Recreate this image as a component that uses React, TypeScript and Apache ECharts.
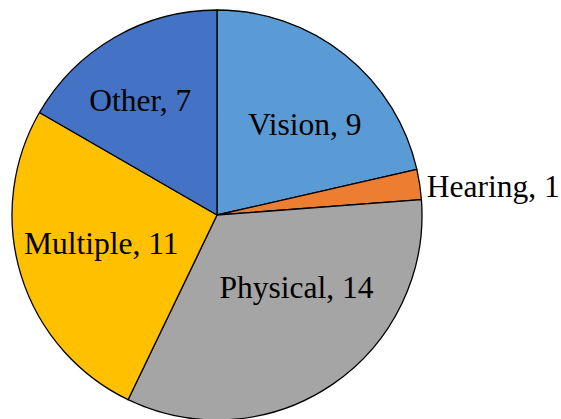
import React, { useEffect, useRef } from "react";
import * as echarts from "echarts";

const categories = ["Vision", "Hearing", "Physical", "Multiple", "Other"];
const values = [9, 1, 14, 11, 7];
const colors = ["#5B9BD5", "#ED7D31", "#A5A5A5", "#FFC000", "#4472C4"];
// label nudges (dx, dy) from ECharts' default inside label position
const labelNudges: [number, number][] = [
  [22, -8],
  [172, -13],
  [20, -15],
  [-15, -3],
  [-24, -23],
];

export default function App() {
  const ref = useRef<HTMLDivElement>(null);
  useEffect(() => {
    document.body.style.margin = "0";
    const chart = echarts.init(ref.current!, null, { renderer: "svg" });
    chart.setOption({
      animation: false,
      backgroundColor: "#ffffff",
      series: [
        {
          type: "pie",
          center: [217, 215],
          radius: 205,
          startAngle: 90,
          clockwise: true,
          avoidLabelOverlap: false,
          silent: true,
          itemStyle: { borderColor: "#000000", borderWidth: 1.3 },
          label: {
            show: true,
            position: "inside",
            formatter: "{b}, {c}",
            color: "#000000",
            fontFamily: "'Liberation Serif', 'Times New Roman', serif",
            fontSize: 31.5,
          },
          labelLine: { show: false },
          labelLayout: (params: any) => {
            const n = labelNudges[params.dataIndex] || [0, 0];
            return { dx: n[0], dy: n[1] };
          },
          data: categories.map((c, i) => ({
            name: c,
            value: values[i],
            itemStyle: { color: colors[i] },
          })),
        },
      ],
    });
    return () => chart.dispose();
  }, []);
  return <div ref={ref} style={{ width: 561, height: 419 }} />;
}
